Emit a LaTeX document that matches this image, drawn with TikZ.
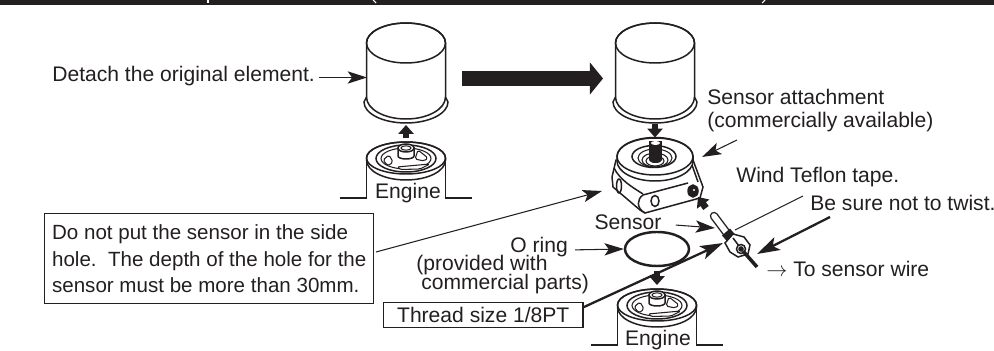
\documentclass[tikz,border=0pt]{standalone}
\usepackage{fontspec}
\setmainfont{Liberation Sans}
\usetikzlibrary{arrows.meta,shapes.geometric}
\definecolor{inkblack}{HTML}{231F20}

\tikzset{
  txt/.style={inner sep=0pt, text=inkblack, font=\fontsize{12}{14}\selectfont},
  ln/.style={draw=inkblack, line width=0.85pt},
  thin ln/.style={draw=inkblack, line width=0.6pt},
  ptr/.style={thin ln, -{Stealth[length=11pt, width=7pt, inset=2.5pt]}},
  ptrb/.style={draw=inkblack, line width=1.3pt, -{Stealth[length=13pt, width=8pt, inset=3pt]}},
  block/.style={draw=inkblack, line width=3.8pt, -{Triangle[length=5pt, width=8.5pt]}},
  filterpic/.pic={
    \draw[ln, fill=white] (-42,59) arc [start angle=180, end angle=0, x radius=42, y radius=21] -- (39.5,54) -- (39.5,0)
      arc [start angle=0, end angle=-180, x radius=39.5, y radius=20] -- (-39.5,54) -- cycle;
    \draw[ln] (-39.5,54) arc [start angle=180, end angle=0, x radius=39.5, y radius=22];
    \draw[ln] (0,0) ellipse [x radius=39.5, y radius=20];
  },
  enginepic/.pic={
    \draw[ln] (-66,40) -- (-39.5,40) -- (-39.5,0);
    \draw[ln] (66,40) -- (39.5,40) -- (39.5,0);
    \draw[ln, fill=white] (-39.5,2) arc [start angle=180, end angle=0, x radius=39.5, y radius=20] -- (39.5,0)
      arc [start angle=0, end angle=-180, x radius=39.5, y radius=16] -- cycle;
    \draw[ln] (0,0) ellipse [x radius=39.5, y radius=16];
    \draw[ln] (0,0.5) ellipse [x radius=30, y radius=13.5];
    \draw[thin ln] (0,0.5) ellipse [x radius=25, y radius=10.5];
    \draw[thin ln, fill=white, rounded corners=1pt] (-23,2) -- (-17,-3) -- (-13,4) -- (-18,8) -- cycle;
    \draw[thin ln, fill=white, rounded corners=1pt] (-9,9) -- (24,6) -- (14,11) -- (-6,11.5) -- cycle;
    \draw[thin ln, fill=white, rounded corners=1pt] (9,1) -- (12,-8) -- (22,0) -- (18,3) -- cycle;
    \draw[ln, fill=white] (-8,-10) -- (-8,-2) arc [start angle=180, end angle=0, x radius=8, y radius=3] -- (8,-10) -- cycle;
    \draw[ln, fill=white] (0,-10) ellipse [x radius=8, y radius=4];
    \draw[thin ln] (0,-10) ellipse [x radius=5, y radius=2.2];
  }
}

\begin{document}
\begin{tikzpicture}[x=0.02cm, y=-0.02cm]
\useasboundingbox (0,0) rectangle (994,351);

% header bar
\fill[inkblack] (0,0) rectangle (994,5.5);
\draw[white, line width=0.8pt] (208,0) -- (208,3);
\draw[white, line width=0.6pt] (373,0) -- (376,3);
\draw[white, line width=0.6pt] (765,0) -- (762,3);

% left side
\pic at (406,43) {filterpic};
\pic at (406,158) {enginepic};
\node[txt] (engineA) at (408,193) {Engine};
\coordinate (arrowAs) at (406,138.5);
\coordinate (arrowAe) at (406,125);
\draw[block] (arrowAs) -- (arrowAe);

\node[txt, anchor=west] (detach) at (52,76) {Detach the original element.};
\coordinate (filterA) at (367,77.5);
\draw[ptr, shorten <=2pt] (detach.east |- filterA) -- (filterA);

% big arrow between
\coordinate (bigs) at (462,78.5);
\coordinate (bige) at (603,78.5);
\draw[draw=inkblack, line width=8.5pt, -{Triangle[length=7.5pt, width=18pt]}] (bigs) -- (bige);

% right side
\pic at (655,43) {filterpic};

% attachment
\draw[ln, fill=white] (616,160) -- (612,177) -- (613,187) -- (640,210) -- (645,213) -- (700,198) -- (703,187) -- (693,160) -- cycle;
\draw[ln] (614,168) .. controls (620,180) and (632,187) .. (643,194);
\draw[ln] (643,195) -- (688,183);
\draw[ln] (643,195) .. controls (637,199) and (636,208) .. (645,213);
\draw[ln] (692,165) -- (698,182);
\draw[ln] (619,186) ellipse [x radius=2.5, y radius=7];
\draw[ln] (655,201) ellipse [x radius=4, y radius=5.5];
\draw[ln, fill=inkblack] (693,191) ellipse [x radius=5, y radius=6];
\fill[white] (694,190) circle [radius=1.2];
\draw[ln, fill=white] (617,161) arc [start angle=180, end angle=0, x radius=38, y radius=20] -- (693,156.5)
  arc [start angle=0, end angle=-180, x radius=38, y radius=19] -- cycle;
\draw[ln] (655,156.5) ellipse [x radius=38, y radius=18.5];
\draw[ln] (654,156.5) ellipse [x radius=22, y radius=11];
\draw[thin ln] (655,158) ellipse [x radius=17, y radius=9];
\draw[thin ln] (655,160) ellipse [x radius=13, y radius=7];
\draw[thin ln] (655,161) ellipse [x radius=9, y radius=5];
\fill[inkblack] (649,141) rectangle (662,160);
\fill[inkblack] (655.5,160) ellipse [x radius=6.5, y radius=3];
\fill[white] (655.5,143) ellipse [x radius=4.5, y radius=2];
\coordinate (arrowBs) at (655,124);
\coordinate (arrowBe) at (655,137.5);
\draw[block] (arrowBs) -- (arrowBe);

\node[txt, anchor=west] (attach1) at (707,97) {Sensor attachment};
\node[txt, anchor=west] (attach2) at (707,122) {(commercially available)};
\coordinate (attachs) at (737,140);
\coordinate (attache) at (702,157);
\draw[ptr] (attachs) -- (attache);

% note box
\node[txt, draw=inkblack, line width=0.85pt, anchor=north west, minimum width=329*0.02cm, minimum height=90*0.02cm, align=left, font=\fontsize{11.7}{15.1}\selectfont] (note) at (44,213)
  {Do not put the sensor in the side\\hole.\ \ The depth of the hole for the\\sensor must be more than 30mm.};
\coordinate (notes) at (376,252);
\coordinate (notee) at (602,191);
\draw[ptr] (notes) -- (notee);

% sensor
\coordinate (stick1) at (714,216);
\coordinate (stick2) at (729,236);
\draw[draw=inkblack, line width=4.8pt, line cap=round] (stick1) -- (stick2);
\draw[draw=white, line width=3.2pt, line cap=round] (stick1) -- (stick2);
\draw[draw=inkblack, line width=6pt] (726,232) -- (732,239);
\draw[ln, fill=white] (725,243) -- (733,234) -- (744,237) -- (750,245) -- (748,254) -- (738,257) -- (730,252) -- cycle;
\draw[ln] (733,238) -- (742,250);
\draw[ln, fill=white] (741,249) circle [radius=4.5];
\draw[ln, fill=inkblack] (741,249) circle [radius=2];
\coordinate (cable1) at (743,251);
\coordinate (cable2) at (757,267);
\draw[draw=inkblack, line width=2pt] (cable1) -- (cable2);
\coordinate (holes) at (706,208);
\coordinate (holee) at (698,197);
\draw[block] (holes) -- (holee);

\node[txt] (sensor) at (628,222) {Sensor};
\coordinate (sensore) at (715,228);
\draw[ptr, shorten <=8pt] (sensor.east) ++(0,2) -- (sensore);

\node[txt, anchor=west] (wind) at (736,177) {Wind Teflon tape.};
\node[txt, anchor=west] (besure) at (810,203) {Be sure not to twist.};
\coordinate (winds) at (803,196);
\coordinate (winde) at (735,230);
\draw[thin ln] (winds) -- (winde);
\coordinate (twists) at (830,217);
\coordinate (twiste) at (757,254);
\draw[ptrb] (twists) -- (twiste);
\node[txt, anchor=west] (wire) at (766,269) {$\rightarrow$ To sensor wire};

% o ring
\node[draw=inkblack, line width=1.4pt, ellipse, inner sep=0pt, minimum width=64*0.02cm, minimum height=34*0.02cm] (ring) at (657,249) {};
\node[txt, anchor=west] (oring) at (510,247) {O ring};
\node[txt, anchor=west] (provided) at (416,265) {(provided with};
\node[txt, anchor=west] (commercial) at (421,284) {commercial parts)};
\draw[ptr, shorten <=4pt] (oring.east) ++(0,3) -- (ring.west);

% thread box
\node[txt, draw=inkblack, line width=0.85pt, minimum width=199*0.02cm, minimum height=25*0.02cm, anchor=north west] (thread) at (383,302) {Thread size 1/8PT};
\coordinate (threadend) at (723,243);
\draw[ptrb] (thread.east) ++(0,-8) -- (threadend);

% engine below
\pic at (657,305) {enginepic};
\node[txt] (engineB) at (658,340) {Engine};
\coordinate (arrowCs) at (657,271);
\coordinate (arrowCe) at (657,285);
\draw[block] (arrowCs) -- (arrowCe);

\end{tikzpicture}
\end{document}
